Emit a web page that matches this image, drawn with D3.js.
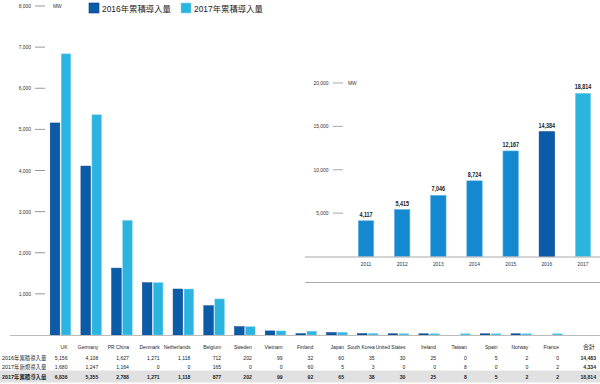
<!DOCTYPE html>
<html><head><meta charset="utf-8">
<script src="https://cdn.jsdelivr.net/npm/d3@7"></script>
<style>
html,body{margin:0;padding:0;background:#fff;}
svg{display:block;font-family:"Liberation Sans","Noto Sans CJK JP",sans-serif;}
</style></head>
<body>
<svg id="c" width="600" height="384"></svg>
<script>
const countries = ["UK","Germany","PR China","Denmark","Netherlands","Belgium","Sweden","Vietnam","Finland","Japan","South Korea","United States","Ireland","Taiwan","Spain","Norway","France"];
const cum2016 = [5156,4108,1627,1271,1118,712,202,99,32,60,35,30,25,0,5,2,0];
const new2017 = [1680,1247,1164,0,0,165,0,0,60,5,3,0,0,8,0,0,2];
const cum2017 = [6836,5355,2788,1271,1118,877,202,99,92,65,38,30,25,8,5,2,2];
const totals = ["14,483","4,334","18,814"];
const rowLabels = ["2016年累積導入量","2017年新規導入量","2017年累積導入量"];
const seriesNames = ["2016年累積導入量","2017年累積導入量"];
const mainTicks = [1000,2000,3000,4000,5000,6000,7000,8000];
const years = ["2011","2012","2013","2014","2015","2016","2017"];
const yearTotals = [4117,5415,7046,8724,12167,14384,18814];
const insetTicks = [5000,10000,15000,20000];

const svg = d3.select("#c");
const fmt = d3.format(",");
const DARK = "#0b5ca8", DARKS = "#083f88", LIGHT = "#2bb4df", LIGHTS = "#86d3ee", MID = "#1589d0", MIDS = "#5fb3e4";

// condensed text helper
function ctext(g, px, py, str, opts){
  opts = opts || {};
  const t = g.append("text")
    .attr("transform", `translate(${px},${py}) scale(${opts.sx||0.82},1)`)
    .attr("text-anchor", opts.anchor||"start")
    .attr("font-size", opts.size||6)
    .attr("fill", opts.fill||"#222")
    .attr("font-weight", opts.bold?"bold":"normal")
    .text(str);
  return t;
}

// main chart
const y = d3.scaleLinear().domain([0,8000]).range([335,6]);
const x = d3.scalePoint().domain(countries).range([60.5,552]);

const yt = svg.append("g");
mainTicks.forEach(t=>{
  yt.append("line").attr("x1",35).attr("x2",45).attr("y1",y(t)).attr("y2",y(t)).attr("stroke","#999").attr("stroke-width",1);
  ctext(yt,31,y(t)+2,fmt(t),{anchor:"end",size:6,fill:"#333"});
});
ctext(svg,53,y(8000)+2,"MW",{size:6,fill:"#333"});

// legend
[[DARK,DARKS,89,102],[LIGHT,LIGHTS,181,194]].forEach((l,i)=>{
  svg.append("rect").attr("x",l[2]).attr("y",3).attr("width",10).attr("height",10).attr("fill",l[0]).attr("stroke",l[1]).attr("stroke-width",0.6);
  svg.append("text").attr("x",l[3]).attr("y",11.5).attr("font-size",8.4).attr("fill","#222").text(seriesNames[i]);
});

function h(v){ if(v<=0) return 0; return Math.max(1.2, y(0)-y(v)); }
const bars = svg.append("g");
countries.forEach((c,i)=>{
  const cx = x(c);
  const h1 = h(cum2016[i]), h2 = h(cum2017[i]);
  if(h1>0) bars.append("rect").attr("x",cx-10.3).attr("y",y(0)-h1).attr("width",9.6).attr("height",h1).attr("fill",DARK).attr("stroke",DARKS).attr("stroke-width",0.5);
  if(h2>0) bars.append("rect").attr("x",cx+0.7).attr("y",y(0)-h2).attr("width",9.6).attr("height",h2).attr("fill",LIGHT).attr("stroke",LIGHTS).attr("stroke-width",0.5);
});
svg.append("line").attr("x1",10).attr("x2",600).attr("y1",335.5).attr("y2",335.5).attr("stroke","#bbb").attr("stroke-width",1);

// table
svg.append("rect").attr("x",0).attr("y",370.5).attr("width",600).attr("height",12).attr("fill","#e1e1e1");
const rowsY = [360,369,379];
const rowsData = [cum2016,new2017,cum2017];
const tg = svg.append("g");
rowLabels.forEach((r,k)=>{
  tg.append("text").attr("x",2).attr("y",rowsY[k]).attr("font-size",5.4).attr("fill","#222").attr("font-weight",k==2?"bold":"normal").text(r);
});
const tx = c => x(c)+7;
countries.forEach((c,i)=>{
  ctext(tg,tx(c),348.5,c,{anchor:"end",size:6.2,sx:0.8});
  rowsData.forEach((d,k)=>{
    ctext(tg,tx(c),rowsY[k],fmt(d[i]),{anchor:"end",size:6.2,bold:k==2});
  });
});
ctext(tg,595,348.5,"合計",{anchor:"end",size:6,sx:1});
totals.forEach((t,k)=>{
  ctext(tg,596,rowsY[k],t,{anchor:"end",size:6.2,bold:true});
});

// inset
const iy = d3.scaleLinear().domain([0,20000]).range([256.5,83]);
const ix = d3.scalePoint().domain(years).range([366,583]);
const ig = svg.append("g");
ig.append("line").attr("x1",305).attr("x2",600).attr("y1",282.5).attr("y2",282.5).attr("stroke","#aaa").attr("stroke-width",1);
insetTicks.forEach(t=>{
  ig.append("line").attr("x1",333).attr("x2",343).attr("y1",iy(t)).attr("y2",iy(t)).attr("stroke","#aaa");
  ctext(ig,328.5,iy(t)+2,fmt(t),{anchor:"end",size:6,fill:"#333"});
});
ctext(ig,348,iy(20000)+2,"MW",{size:6,fill:"#333"});
years.forEach((yr,i)=>{
  const cx = ix(yr);
  const fill = i==5?DARK:(i==6?LIGHT:MID);
  const st = i==5?DARKS:(i==6?LIGHTS:MIDS);
  ig.append("rect").attr("x",cx-7.7).attr("y",iy(yearTotals[i])).attr("width",15.4).attr("height",iy(0)-iy(yearTotals[i])).attr("fill",fill).attr("stroke",st).attr("stroke-width",0.6);
  ctext(ig,cx,iy(yearTotals[i])-4,fmt(yearTotals[i]),{anchor:"middle",size:6.6,bold:true});
  ctext(ig,cx,266,yr,{anchor:"middle",size:6,fill:"#333"});
});
ig.append("line").attr("x1",305).attr("x2",600).attr("y1",257).attr("y2",257).attr("stroke","#aaa").attr("stroke-width",1);
</script>
</body></html>
